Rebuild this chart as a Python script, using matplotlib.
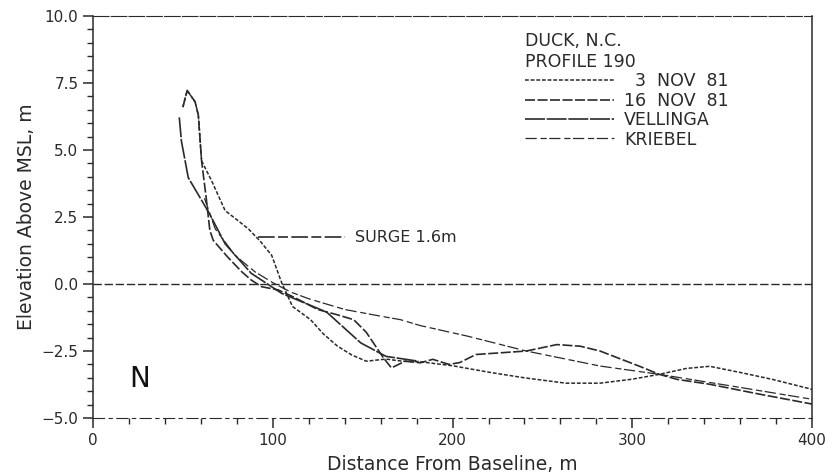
import numpy as np
import matplotlib.pyplot as plt

# profile data (distance from baseline m, elevation m)
nov3_x = [50, 52.4, 56.8, 58.6, 60.4, 66, 73.5, 80, 86.4, 93, 99.4, 105, 111, 121, 128, 136, 144, 152,
          163, 172, 182, 200, 221, 240, 263, 282, 300, 315, 330, 343, 360, 378, 400]
nov3_y = [6.6, 7.22, 6.8, 6.3, 4.6, 3.85, 2.74, 2.4, 2.06, 1.6, 1.07, 0.04, -0.84, -1.33, -1.85, -2.32, -2.65, -2.88,
          -2.8, -2.88, -2.9, -3.05, -3.3, -3.5, -3.7, -3.7, -3.55, -3.37, -3.15, -3.07, -3.3, -3.56, -3.93]

nov16_x = [50, 52.4, 56.8, 58.6, 60.4, 63, 65, 66.9, 75, 82.7, 88, 93.8, 103, 112, 125, 136, 145, 152, 157,
           161.5, 166, 173.6, 182, 189, 198, 204, 213, 241, 258, 271, 282, 304, 315, 325, 343, 370, 400]
nov16_y = [6.6, 7.22, 6.8, 6.3, 4.6, 3.2, 2.0, 1.63, 1.0, 0.46, 0.15, -0.1, -0.22, -0.5, -0.95, -1.15, -1.33, -1.8, -2.3,
           -2.75, -3.13, -2.88, -2.94, -2.81, -3.0, -2.93, -2.63, -2.5, -2.26, -2.32, -2.5, -3.07, -3.37, -3.56, -3.74, -4.1, -4.48]

vellinga_x = [48, 49.2, 53, 58, 65, 73.5, 88, 105, 130, 149, 163, 181]
vellinga_y = [6.22, 5.33, 3.97, 3.4, 2.6, 1.5, 0.4, -0.35, -1.05, -2.2, -2.7, -2.88]

kriebel_x = [62, 68, 79, 90, 100, 110, 120, 140, 160, 171, 182, 208, 241, 282, 315, 350, 400]
kriebel_y = [3.2, 2.06, 1.07, 0.46, 0.05, -0.3, -0.55, -0.95, -1.2, -1.33, -1.55, -1.94, -2.5, -3.06, -3.37, -3.75, -4.3]

surge_level = 1.75
surge_x = [92, 140]
swl = 0.0

ink = '#2a2a2a'

fig = plt.figure(figsize=(8.33, 4.74), dpi=100)
ax = fig.add_axes([0.1116, 0.1181, 0.8634, 0.8481])

ax.plot(nov3_x, nov3_y, color=ink, lw=1.1, dashes=(2.5, 1.2), label='  3  NOV  81')
ax.plot(nov16_x, nov16_y, color=ink, lw=1.2, dashes=(6, 1.5), label='16  NOV  81')
ax.plot(vellinga_x, vellinga_y, color=ink, lw=1.2, dashes=(12, 1), label='VELLINGA')
ax.plot(kriebel_x, kriebel_y, color=ink, lw=0.9, dashes=(9, 3, 5, 2), label='KRIEBEL')

# still water line and surge marker
ax.axhline(swl, color=ink, lw=1.0, dashes=(6, 2))
ax.plot(surge_x, [surge_level, surge_level], color=ink, lw=1.2, dashes=(10, 2, 6, 2))
ax.text(146, surge_level, 'SURGE 1.6m', fontsize=11.5, va='center', ha='left', color=ink)
ax.text(26, -3.55, 'N', fontsize=20, va='center', ha='center', color='#111111')

leg = ax.legend(loc='upper left', bbox_to_anchor=(0.584, 0.99), frameon=False,
                title='DUCK, N.C.\nPROFILE 190', title_fontsize=12.5, fontsize=12.5,
                handlelength=5.1, handletextpad=0.6, labelspacing=0.08,
                alignment='left', borderpad=0.2)
for t in leg.get_texts():
    t.set_color(ink)
leg.get_title().set_color(ink)
leg.get_title().set_linespacing(1.2)

ax.set_xlim(0, 400)
ax.set_ylim(-5, 10)
ax.set_xticks(np.arange(0, 401, 100))
ax.set_xticks(np.arange(0, 401, 20), minor=True)
ax.set_yticks(np.arange(-5, 10.1, 2.5))
ax.set_yticks(np.arange(-5, 10.1, 0.5), minor=True)
ax.set_yticklabels(['\u22125.0', '\u22122.5', '0.0', '2.5', '5.0', '7.5', '10.0'])
ax.tick_params(which='major', length=7, width=1.1, colors=ink, labelsize=11)
ax.tick_params(which='minor', length=4, width=1.0, colors=ink)

for side in ['left', 'right']:
    ax.spines[side].set_color(ink)
    ax.spines[side].set_linewidth(1.1)
ax.spines['top'].set_color(ink)
ax.spines['top'].set_linestyle((0, (14, 2)))
ax.spines['bottom'].set_color(ink)
ax.spines['bottom'].set_linestyle((0, (10, 4, 3, 4)))

ax.set_xlabel('Distance From Baseline, m', fontsize=13.5, color=ink, labelpad=5)
ax.set_ylabel('Elevation Above MSL, m', fontsize=13.5, color=ink, labelpad=4)

fig.savefig('out.png', dpi=100)
